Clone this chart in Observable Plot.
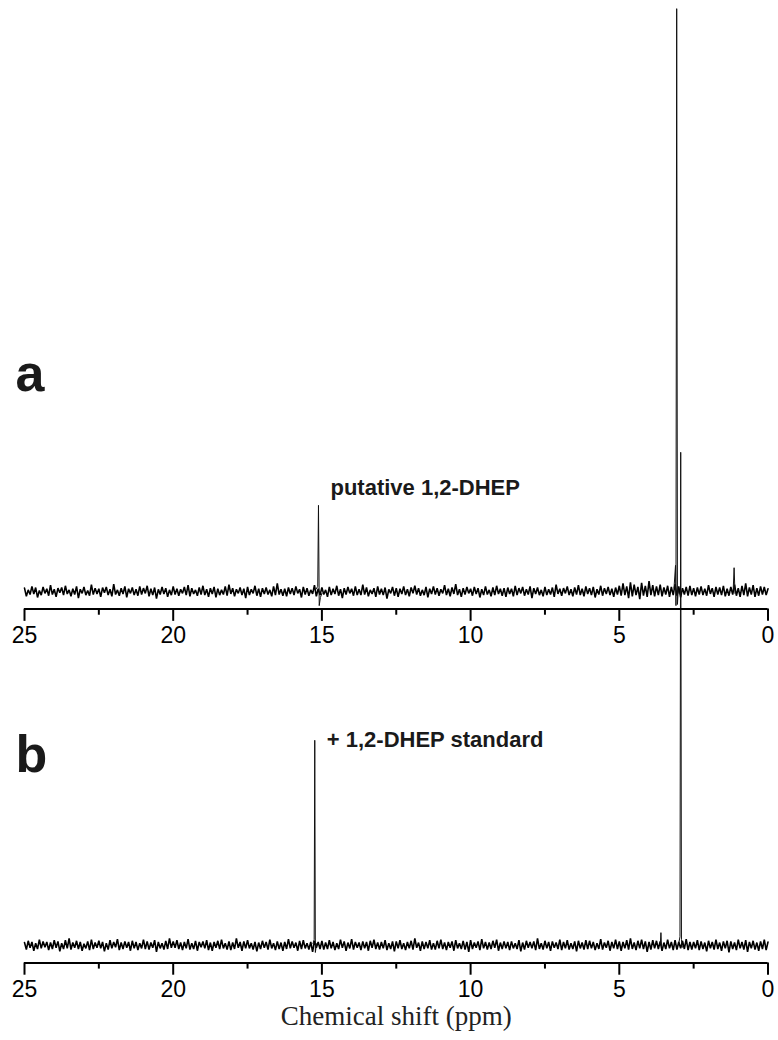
<!DOCTYPE html>
<html><head><meta charset="utf-8">
<script src="https://cdn.jsdelivr.net/npm/d3@7"></script>
<script src="https://cdn.jsdelivr.net/npm/@observablehq/plot@0.6"></script>
<style>body{margin:0;background:#fff;}#chart svg{display:block;overflow:visible;}</style>
</head><body><div id="chart"></div>
<script>
// ---- data (intensity in per-mille of the tallest peak of spectrum a) ----
const ppmStart = 25, ppmStep = 0.0625;   // noise samples from 25 ppm down to 0 ppm
const noiseA = [
 6,-8,3,-5,9,-4,7,-10,2,-6,8,-3,5,-7,11,-5,4,-9,6,-2,
 7,-6,10,-4,3,-8,5,-5,9,-11,4,-3,8,-6,2,-7,12,-5,6,-4,
 5,-9,7,-2,8,-6,4,-8,13,-5,3,-7,6,-4,9,-10,5,-3,7,-6,
 4,-7,9,-5,6,-3,10,-8,5,-6,7,-12,4,-5,8,-4,6,-9,3,-6,
 9,-5,5,-7,4,-3,8,-6,11,-8,6,-4,3,-7,7,-5,10,-6,4,-9,
 6,-4,8,-10,5,-6,3,-5,9,-7,12,-4,6,-8,4,-3,7,-6,5,-11,
 8,-6,4,-3,10,-7,5,-9,6,-4,7,-5,3,-8,9,-6,14,-5,4,-7,
 5,-8,7,-4,6,-6,9,-3,4,-10,8,-5,6,-7,3,-4,11,-8,5,-6,
 7,-5,3,-9,8,-6,5,-4,10,-7,4,-11,6,-5,8,-3,5,-7,9,-6,
 4,-6,12,-5,7,-8,3,-4,6,-9,9,-5,5,-6,7,-12,4,-3,8,-7,
 6,-9,5,-4,9,-6,4,-8,7,-3,10,-5,6,-7,3,-6,8,-10,5,-4,
 9,-5,6,-7,4,-3,11,-6,5,-8,7,-4,13,-6,4,-9,6,-5,8,-3,
 5,-7,8,-4,6,-10,4,-6,9,-5,3,-8,7,-6,10,-4,5,-7,6,-9,
 7,-4,5,-8,10,-6,6,-3,8,-7,4,-5,9,-11,6,-4,7,-6,3,-8,
 8,-6,4,-5,7,-9,12,-4,5,-7,6,-3,9,-6,4,-8,7,-5,11,-6,
 5,-8,9,-4,6,-6,8,-10,4,-5,10,-7,6,-4,8,-6,5,-9,7,-5,
 10,-7,14,-6,9,-11,16,-8,12,-6,8,-13,15,-7,10,-9,18,-6,11,-8,
 9,-6,12,-8,7,-5,10,-9,8,-6,13,-7,9,-10,6,-5,8,-7,10,-6,
 6,-8,7,-5,9,-6,5,-7,11,-4,6,-9,8,-5,7,-6,10,-8,5,-7,
 8,-5,12,-7,6,-9,10,-6,14,-8,7,-5,11,-9,6,-7,9,-5,8,-6,
 5];
const noiseB = [
 5,-7,8,-4,6,-9,4,-6,10,-5,7,-3,6,-8,5,-6,9,-4,7,-10,
 4,-6,9,-5,12,-7,5,-4,8,-6,6,-9,3,-5,7,-8,10,-6,5,-4,
 8,-5,6,-10,4,-7,9,-5,6,-3,11,-8,5,-6,7,-4,6,-9,8,-5,
 6,-8,4,-5,10,-6,7,-7,5,-4,9,-11,6,-5,4,-7,8,-6,12,-4,
 7,-4,9,-6,5,-8,6,-5,11,-7,4,-6,8,-9,6,-3,7,-5,9,-8,
 5,-9,6,-4,8,-6,10,-5,4,-7,7,-8,5,-6,12,-4,6,-9,7,-5,
 9,-5,4,-7,6,-10,5,-6,8,-4,6,-7,10,-5,4,-8,7,-6,5,-9,
 6,-6,11,-5,7,-4,5,-9,8,-6,9,-5,4,-7,6,-11,8,-4,6,-6,
 8,-7,5,-6,9,-5,6,-8,4,-6,10,-4,7,-9,5,-5,11,-7,6,-4,
 5,-8,7,-5,6,-9,8,-4,10,-6,5,-7,6,-5,9,-8,4,-6,7,-10,
 7,-5,9,-6,4,-8,6,-5,8,-7,12,-4,5,-9,7,-6,6,-5,9,-7,
 4,-7,8,-5,10,-6,5,-8,6,-4,7,-9,9,-5,4,-6,8,-7,6,-11,
 9,-6,5,-4,7,-8,11,-5,6,-7,5,-6,8,-4,10,-9,5,-6,7,-5,
 6,-8,7,-5,4,-6,9,-10,5,-7,8,-4,6,-5,7,-8,12,-6,4,-7,
 8,-5,6,-9,7,-4,5,-6,10,-8,6,-5,9,-7,4,-6,7,-10,8,-5,
 5,-7,9,-6,8,-5,6,-8,4,-6,11,-7,5,-4,8,-9,6,-5,10,-6,
 7,-9,6,-5,9,-7,12,-6,5,-8,8,-5,10,-6,7,-11,6,-7,9,-5,
 8,-6,7,-9,5,-6,10,-5,6,-8,9,-7,6,-5,8,-6,11,-8,6,-7,
 6,-5,9,-8,7,-6,5,-10,8,-5,6,-7,10,-6,5,-9,7,-5,8,-12,
 7,-6,5,-8,10,-5,6,-7,9,-11,6,-5,8,-7,5,-9,7,-6,10,-8,
 6];
// peaks: [ppm, intensity]
const peakA_15 = [[15.20,4],[15.14,9],[15.115,148],[15.09,-24],[15.05,-10],[15.0,-3]];
const peakA_3  = [[3.16,6],[3.11,45],[3.095,-24],[3.07,1000],[3.045,-22],[3.02,2],[2.98,-4]];
const peakA_1  = [[1.17,3],[1.14,41],[1.11,-3]];
const peakB_15 = [[15.30,3],[15.26,10],[15.24,352],[15.22,-12],[15.18,3]];
const peakB_3  = [[3.00,4],[2.96,15],[2.935,846],[2.91,10],[2.88,-3]];
const peakB_36 = [[3.62,2],[3.60,22],[3.58,-2]];
const majorTicks = [25, 20, 15, 10, 5, 0];
const tickLabels = ["25", "20", "15", "10", "5", "0"];
const minorTicks = [22.5, 17.5, 12.5, 7.5, 2.5];
const panelNames = ["a", "b"];
const panelLetterLevel = [345, 298];
const annotations = ["putative 1,2-DHEP", "+ 1,2-DHEP standard"];
const annotationPpm = [15.115, 15.24];
const annotationLevel = [165, 340];
const xTitle = "Chemical shift (ppm)";

// ---- layout ----
const panelOffset = {a: 607, b: 0};   // vertical stacking of the two spectra
const axisOffset = -30;               // axis line below each baseline
const majorLen = 21, minorLen = 10.5;

const noiseRows = [], peakRows = [];
noiseA.forEach((v, i) => noiseRows.push({series: "a-noise", panel: "a", ppm: ppmStart - i * ppmStep, I: v}));
noiseB.forEach((v, i) => noiseRows.push({series: "b-noise", panel: "b", ppm: ppmStart - i * ppmStep, I: v}));
[[peakA_15,"a","a15"],[peakA_3,"a","a3"],[peakA_1,"a","a1"],[peakB_15,"b","b15"],[peakB_3,"b","b3"],[peakB_36,"b","b36"]]
  .forEach(([arr, p, id]) => arr.forEach(([ppm, I]) => peakRows.push({series: id, panel: p, ppm, I})));

const axes = panelNames.map(p => ({panel: p, y: panelOffset[p] + axisOffset}));
const majors = panelNames.flatMap(p => majorTicks.map((t, i) => ({panel: p, t, label: tickLabels[i], y: panelOffset[p] + axisOffset})));
const minors = panelNames.flatMap(p => minorTicks.map(t => ({panel: p, t, y: panelOffset[p] + axisOffset})));
const letters = panelNames.map((p, i) => ({text: p, y: panelOffset[p] + panelLetterLevel[i]}));
const notes = panelNames.map((p, i) => ({text: annotations[i], x: annotationPpm[i], y: panelOffset[p] + annotationLevel[i]}));

const sans = "'Liberation Sans', Arial, Helvetica, sans-serif";
const chart = Plot.plot({
  width: 778, height: 1040,
  marginLeft: 24, marginRight: 10.5, marginTop: 0, marginBottom: 0,
  x: {domain: [25, 0], axis: null},
  y: {domain: [-163, 1621], axis: null},
  style: {background: "#fff", overflow: "visible"},
  marks: [
    Plot.line(noiseRows, {x: "ppm", y: d => d.I + panelOffset[d.panel], z: "series", stroke: "#000", strokeWidth: 1.6, strokeLinejoin: "miter", curve: "linear"}),
    Plot.line(peakRows, {x: "ppm", y: d => d.I + panelOffset[d.panel], z: "series", stroke: "#111", strokeWidth: 1, curve: "linear"}),
    Plot.ruleY(axes, {y: "y", x1: () => 25, x2: () => 0, stroke: "#000", strokeWidth: 2}),
    Plot.ruleX(majors, {x: "t", y1: "y", y2: d => d.y - majorLen, stroke: "#000", strokeWidth: 2}),
    Plot.ruleX(minors, {x: "t", y1: "y", y2: d => d.y - minorLen, stroke: "#000", strokeWidth: 2}),
    Plot.text(majors, {x: "t", y: "y", text: "label", lineAnchor: "bottom", dy: 34, fontSize: 23, fontFamily: sans, fill: "#000"}),
    Plot.text(letters, {x: () => 25, y: "y", text: "text", textAnchor: "start", lineAnchor: "bottom", dx: -9, fontSize: 52, fontWeight: "bold", fontFamily: sans, fill: "#1a1a1a"}),
    Plot.text(notes, {x: "x", y: "y", text: "text", textAnchor: "start", lineAnchor: "bottom", dx: 12, fontSize: 22, fontWeight: "bold", fontFamily: sans, fill: "#1a1a1a"}),
    Plot.text([xTitle], {frameAnchor: "bottom", lineAnchor: "bottom", dy: -16, fontSize: 27, fontFamily: "'Liberation Serif', 'Times New Roman', serif", fill: "#222"})
  ]
});
document.getElementById("chart").appendChild(chart);
</script>
</body></html>
